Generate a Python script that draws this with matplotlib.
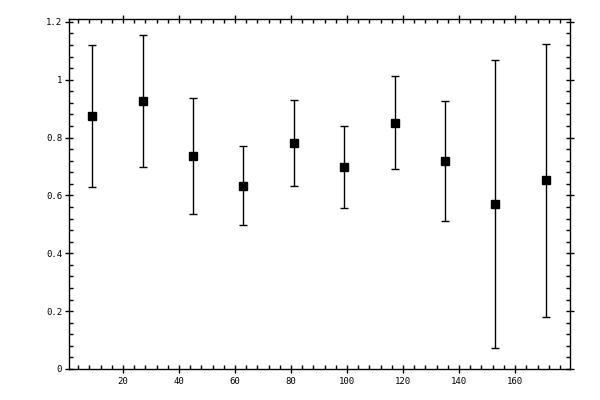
import numpy as np
import matplotlib
matplotlib.use("Agg")
import matplotlib.pyplot as plt
from matplotlib.ticker import MultipleLocator, FormatStrFormatter

# Valores
posiciones = [9, 27, 45, 63, 81, 99, 117, 135, 153, 171]
medias = [0.875, 0.926, 0.736, 0.634, 0.781, 0.698, 0.851, 0.719, 0.570, 0.653]
errores = [0.246, 0.229, 0.200, 0.136, 0.149, 0.143, 0.161, 0.207, 0.498, 0.472]

fig = plt.figure(figsize=(6, 4), dpi=100)
ax = fig.add_axes([0.115, 0.0775, 0.835, 0.875])

ax.errorbar(posiciones, medias, yerr=errores, fmt='s', color='black',
            markersize=5.2, elinewidth=1.0, capsize=2.6, capthick=1.0)

ax.set_xlim(0.75, 179.6)
ax.set_ylim(0, 1.21)

ax.xaxis.set_major_locator(MultipleLocator(20))
ax.xaxis.set_minor_locator(MultipleLocator(4))
ax.yaxis.set_major_locator(MultipleLocator(0.2))
ax.yaxis.set_minor_locator(MultipleLocator(0.04))
ax.yaxis.set_major_formatter(FormatStrFormatter('%g'))

ax.tick_params(which='both', top=True, right=True, width=1.0, labelsize=6.5)
ax.tick_params(which='major', direction='inout', length=6)
ax.tick_params(which='minor', direction='in', length=3)
ax.tick_params(axis='x', pad=3)
ax.tick_params(axis='y', pad=2)
for lbl in ax.get_xticklabels() + ax.get_yticklabels():
    lbl.set_family('DejaVu Sans Mono')

for s in ax.spines.values():
    s.set_linewidth(1.0)

plt.savefig('out.png', format='png', dpi=100)
